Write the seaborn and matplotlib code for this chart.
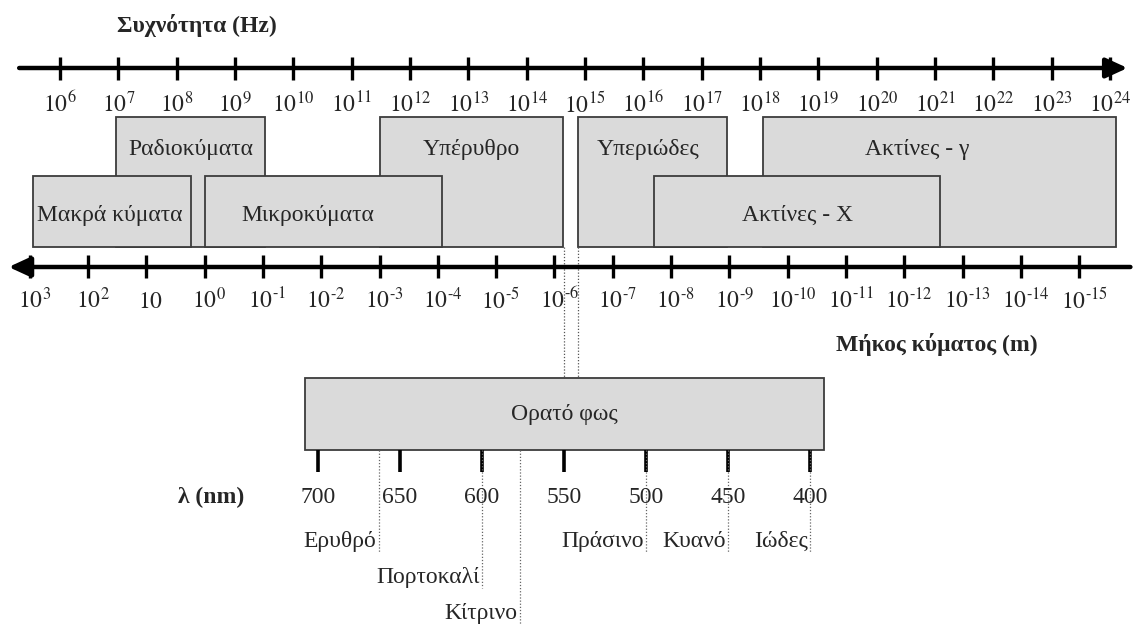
import numpy as np
import matplotlib
matplotlib.use('Agg')
import matplotlib.pyplot as plt
import seaborn as sns
from matplotlib.patches import Rectangle

# Συχνότητα: εκθέτες των υποδιαιρέσεων (Hz)
freq_exp = list(range(6, 25))

# Μήκος κύματος: εκθέτες (m) και ετικέτες
wave_exp = list(range(3, -16, -1))
wave_labels = ['$10$' if e == 1 else
               ('$10^{%d}$' % e if e >= 0 else r'$10^{\text{-}%d}$' % -e)
               for e in wave_exp]

# ζώνες του φάσματος σε log10(f / Hz)
band_names = ['Ραδιοκύματα', 'Υπέρυθρο', 'Υπεριώδες', 'Ακτίνες - γ',
              'Μακρά κύματα', 'Μικροκύματα', 'Ακτίνες - X']
band_lo = [6.96, 11.49, 14.88, 18.05, 5.54, 8.49, 16.18]
band_hi = [9.52, 14.63, 17.44, 24.10, 8.25, 12.55, 21.09]
band_row = [0, 0, 0, 0, 1, 1, 1]
band_text_x = [8.24, 13.05, 16.08, 20.7, 6.86, 10.25, 18.64]

# ορατό φως (nm)
visible_range = [700, 400]
vis_ticks = [700, 650, 600, 550, 500, 450, 400]
colour_names = ['Ερυθρό', 'Πορτοκαλί', 'Κίτρινο', 'Πράσινο', 'Κυανό', 'Ιώδες']
colour_edge = [663, 600, 577, 500, 450, 400]
colour_row = [0, 1, 2, 0, 0, 0]

C_LOG = np.log10(3e8)

sns.set_theme(style='white')
plt.rcParams['font.family'] = ['Liberation Serif', 'DejaVu Serif']
plt.rcParams['mathtext.fontset'] = 'stix'

FILL = '#dadada'
EDGE = '#3c3c3c'
FS = 17

fig = plt.figure(figsize=(11.37, 6.24), dpi=100)
ax = fig.add_axes([0, 0, 1, 1])
px = 58.33
ax.set_xlim(6 - 60 / px, 24 + 27 / px)
ax.set_ylim(624, 0)
ax.axis('off')

# άξονας συχνότητας
ax.annotate('', xy=(24.3, 68), xytext=(5.3, 68),
            arrowprops=dict(arrowstyle='-|>,head_length=1.3,head_width=0.6',
                            lw=3.2, color='black', shrinkA=0, shrinkB=0,
                            mutation_scale=10))
ax.vlines(freq_exp, 57, 80, color='black', lw=2.4)
for e in freq_exp:
    ax.text(e, 112, '$10^{%d}$' % e, ha='center', va='baseline', fontsize=FS)
ax.text(8.34, 32, 'Συχνότητα (Hz)', ha='center', va='baseline',
        fontsize=FS, fontweight='bold')

# άξονας μήκους κύματος
wpos = [C_LOG - e for e in wave_exp]
ax.annotate('', xy=(5.12, 267), xytext=(24.35, 267),
            arrowprops=dict(arrowstyle='-|>,head_length=1.3,head_width=0.6',
                            lw=3.2, color='black', shrinkA=0, shrinkB=0,
                            mutation_scale=10))
ax.vlines(wpos, 255, 278, color='black', lw=2.4)
for p, lab in zip(wpos, wave_labels):
    ax.text(p + 0.08, 308, lab, ha='center', va='baseline', fontsize=FS)
ax.text(21.03, 351, 'Μήκος κύματος (m)', ha='center', va='baseline',
        fontsize=FS, fontweight='bold')

# ζώνες
row_top = [117, 176]
for name, lo, hi, r, tx in zip(band_names, band_lo, band_hi, band_row, band_text_x):
    top = row_top[r]
    ax.add_patch(Rectangle((lo, top), hi - lo, 247 - top, facecolor=FILL,
                           edgecolor=EDGE, lw=1.3, zorder=2 + r))
    ax.text(tx, 155 if r == 0 else 221, name, ha='center', va='baseline',
            fontsize=FS, zorder=5)

# όρια ορατού στον κύριο άξονα
vis_f = [C_LOG - np.log10(l * 1e-9) for l in visible_range]
ax.vlines(vis_f, 247, 378, color='#555555', lw=0.9, linestyles=(0, (1, 1.5)))

# ορατό φως σε nm
ax2 = fig.add_axes([0, 0, 1, 1])
nm_px = 50 / 82
ax2.set_xlim(700 + 318 * nm_px, 700 - (1137 - 318) * nm_px)
ax2.set_ylim(624, 0)
ax2.axis('off')
ax2.patch.set_alpha(0)

ax2.add_patch(Rectangle((708, 378), 391.5 - 708, 72, facecolor=FILL,
                        edgecolor=EDGE, lw=1.3))
ax2.text(550, 420, 'Ορατό φως', ha='center', va='baseline', fontsize=FS)
ax2.vlines(vis_ticks, 450, 472, color='black', lw=2.6)
for t in vis_ticks:
    ax2.text(t, 503, str(t), ha='center', va='baseline', fontsize=FS)
ax2.text(745, 503, 'λ (nm)', ha='right', va='baseline', fontsize=FS,
         fontweight='bold')

for name, edge, r in zip(colour_names, colour_edge, colour_row):
    base = 547 + 36 * r
    ax2.vlines(edge, 450, base + 5, color='#666666', lw=0.9,
               linestyles=(0, (1, 1.5)))
    ax2.text(edge + 1.5, base, name, ha='right', va='baseline', fontsize=FS)

fig.savefig('out.png', dpi=100)
